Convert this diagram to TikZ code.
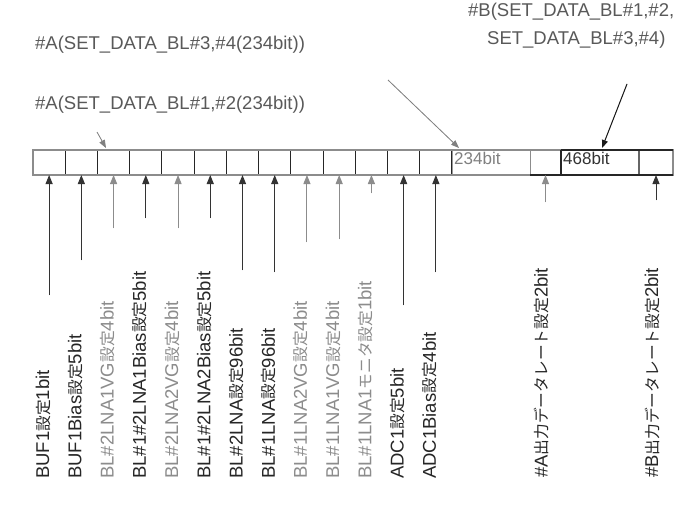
\documentclass[tikz,border=0pt]{standalone}
\usepackage{fontspec}
\setmainfont{Liberation Sans}
\newfontfamily\jp[Scale=0.85]{Noto Sans CJK JP}
\usetikzlibrary{arrows.meta}
\newcommand{\J}[1]{{\jp #1}}
\begin{document}
\begin{tikzpicture}[x=1pt,y=1pt,
  cellbox/.style={draw=black!85,line width=1pt,inner sep=0pt,outer sep=0pt,minimum height=25pt},
  lbl/.style={rotate=90,anchor=west,inner sep=0pt,font=\fontsize{18.5}{18.5}\selectfont,text=black!85},
  glbl/.style={lbl,text=black!45},
  toptext/.style={inner sep=0pt,font=\fontsize{18.5}{18.5}\selectfont,text=black!65},
  celltext/.style={inner sep=0pt,anchor=west,font=\fontsize{17}{17}\selectfont},
  up/.style={-{Triangle[width=7pt,length=9pt]},line width=1pt,draw=black!80,fill=black!80},
  gup/.style={up,draw=black!45,fill=black!55},
  pointer/.style={-{Triangle[width=6pt,length=8pt]},line width=0.8pt}
]
\useasboundingbox (0,0) rectangle (676,-508);
\fill[white] (0,0) rectangle (676,-508);

% register cells (top 150, bottom 175)
\foreach \i in {1,...,13}
  \node[cellbox,minimum width=32.23pt] (c\i) at ({33+32.23*(\i-0.5)},-162.5) {};
\node[cellbox,draw=black!40,minimum width=78pt] (c14) at (491,-162.5) {};
\node[cellbox,draw=black!45,minimum width=31pt] (c15) at (545.5,-162.5) {};
\node[cellbox,draw=black!85,line width=2pt,minimum width=78pt] (c16) at (600,-162.5) {};
\node[cellbox,draw=black!60,line width=2pt,minimum width=34pt] (c17) at (656,-162.5) {};
\draw[black!45,line width=2.6pt] (c1.north west) rectangle (c17.south east);
\draw[black!85,line width=2pt] (c15.south west) -- (c17.south east);
\draw[black!85,line width=2pt] (c16.north west) -- (c17.north east);
\draw[black!85,line width=2pt] (c16.north west) -- (c16.south west);

\node[celltext,text=black!50] (t234) at ([xshift=2pt,yshift=4pt]c14.west) {234bit};
\node[celltext,text=black!80] (t468) at ([xshift=2pt,yshift=4pt]c16.west) {468bit};

% top texts
\node[toptext,anchor=west] (tA34) at (35,-45) {\#A(SET\_DATA\_BL\#3,\#4(234bit))};
\node[toptext,anchor=west] (tA12) at (35,-105) {\#A(SET\_DATA\_BL\#1,\#2(234bit))};
\node[toptext,anchor=west] (tB1) at (468,-12) {\#B(SET\_DATA\_BL\#1,\#2,};
\node[toptext,anchor=west] (tB2) at (487,-40) {SET\_DATA\_BL\#3,\#4)};

\coordinate (p1s) at (97,-132);
\coordinate (p1e) at (106,-148);
\draw[pointer,draw=black!50,fill=black!50] (p1s) -- (p1e);
\coordinate (p2s) at (388,-80);
\coordinate (p2e) at (459,-148);
\draw[pointer,draw=black!50,fill=black!50] (p2s) -- (p2e);
\coordinate (p3s) at (627,-84);
\coordinate (p3e) at (602,-148);
\draw[pointer,draw=black!90,fill=black!90,line width=1pt] (p3s) -- (p3e);

% labels and arrows
\foreach \i/\y/\st/\txt in {
  1/295/lbl/{BUF1\J{設定}1bit},
  2/260/lbl/{BUF1Bias\J{設定}5bit},
  3/228/glbl/{BL\#2LNA1VG\J{設定}4bit},
  4/218/lbl/{BL\#1\#2LNA1Bias\J{設定}5bit},
  5/228/glbl/{BL\#2LNA2VG\J{設定}4bit},
  6/218/lbl/{BL\#1\#2LNA2Bias\J{設定}5bit},
  7/270/lbl/{BL\#2LNA\J{設定}96bit},
  8/272/lbl/{BL\#1LNA\J{設定}96bit},
  9/242/glbl/{BL\#1LNA2VG\J{設定}4bit},
  10/239/glbl/{BL\#1LNA1VG\J{設定}4bit},
  11/193/glbl/{BL\#1LNA1\J{モニタ設定}1bit},
  12/305/lbl/{ADC1\J{設定}5bit},
  13/272/lbl/{ADC1Bias\J{設定}4bit}}
{
  \coordinate (e\i) at ([yshift=-\y pt+162.5pt]c\i.center);
  \node[\st] (l\i) at ([xshift=-6pt,yshift=-479pt+162.5pt]c\i.center) {\txt};
}
\foreach \i in {1,2,4,6,7,8,12,13} \draw[up] (e\i) -- (c\i.south);
\foreach \i in {3,5,9,10,11} \draw[gup] (e\i) -- (c\i.south);

\coordinate (eA) at ([yshift=-202pt+162.5pt]c15.center);
\coordinate (eB) at ([yshift=-200pt+162.5pt]c17.center);
\draw[gup] (eA) -- (c15.south);
\draw[up] (eB) -- (c17.south);
\node[lbl] (lA) at ([xshift=-4pt,yshift=-478pt+162.5pt]c15.center) {\#A\J{出力データレート設定}2bit};
\node[lbl] (lB) at ([xshift=-4pt,yshift=-478pt+162.5pt]c17.center) {\#B\J{出力データレート設定}2bit};
\end{tikzpicture}
\end{document}
